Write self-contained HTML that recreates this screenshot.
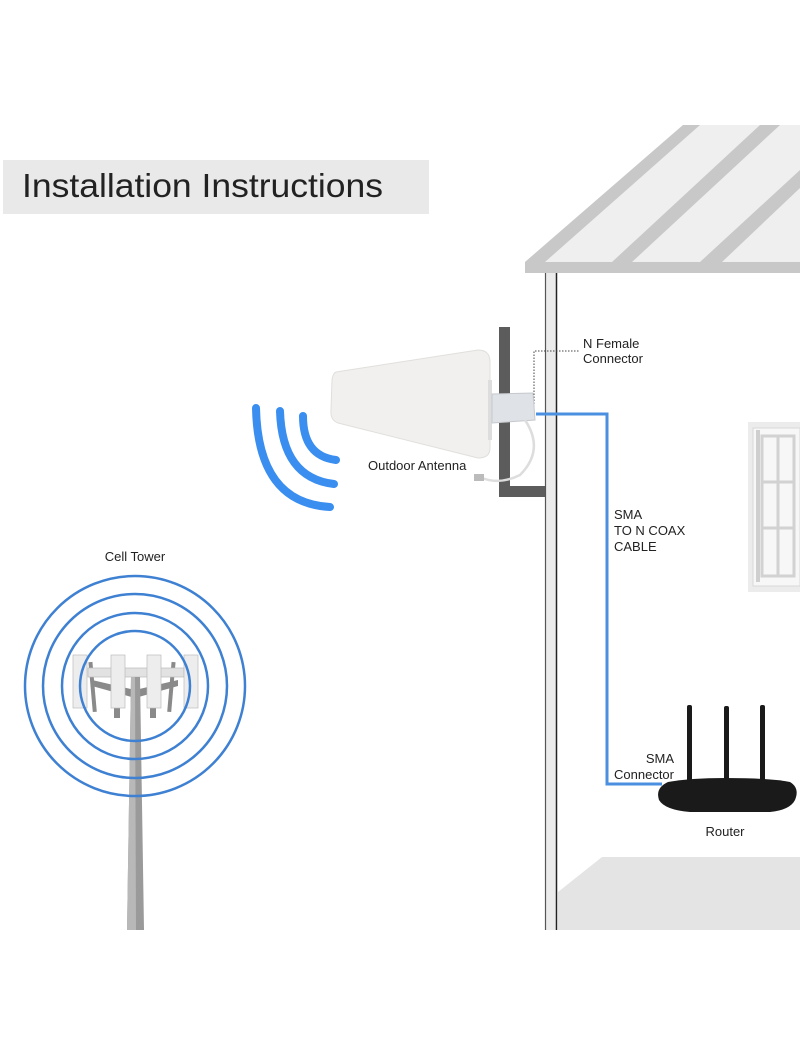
<!DOCTYPE html>
<html><head><meta charset="utf-8"><style>
html,body{margin:0;padding:0;background:#fff;}
svg{display:block;}
text{font-family:"Liberation Sans",Arial,sans-serif;fill:#222;}
</style></head><body>
<svg width="800" height="1052" viewBox="0 0 800 1052" xmlns="http://www.w3.org/2000/svg">
<rect width="800" height="1052" fill="#fff"/>
<!-- title -->
<rect x="3" y="160" width="426" height="54" fill="#e9e9e9"/>
<text x="22" y="197" font-size="33" textLength="361" lengthAdjust="spacingAndGlyphs" fill="#111">Installation Instructions</text>

<!-- roof -->
<polygon points="525,273 525,262 683,125 800,125 800,273" fill="#efefef"/>
<polygon points="525,262 683,125 700,125 545,262" fill="#c8c8c8"/>
<polygon points="612,262 760,125 780,125 632,262" fill="#c8c8c8"/>
<polygon points="700,262 800,170 800,188 722,262" fill="#c8c8c8"/>
<rect x="525" y="262" width="275" height="11" fill="#c8c8c8"/>

<!-- wall -->
<rect x="545" y="273" width="12" height="657" fill="#ebebeb"/>
<line x1="545.5" y1="273" x2="545.5" y2="930" stroke="#555" stroke-width="1.2"/>
<line x1="556.5" y1="273" x2="556.5" y2="930" stroke="#222" stroke-width="1.5"/>

<!-- floor -->
<polygon points="558,892 602,857 800,857 800,930 558,930" fill="#e4e4e4"/>

<!-- window -->
<rect x="748" y="422" width="52" height="170" fill="#ececec"/>
<rect x="753" y="428" width="47" height="158" fill="#f7f7f7" stroke="#d8d8d8"/>
<rect x="756" y="430" width="4" height="152" fill="#cfcfcf"/>
<rect x="762" y="436" width="32" height="140" fill="none" stroke="#d2d2d2" stroke-width="3"/>
<line x1="778" y1="436" x2="778" y2="576" stroke="#d2d2d2" stroke-width="3"/>
<line x1="762" y1="482" x2="794" y2="482" stroke="#d2d2d2" stroke-width="3"/>
<line x1="762" y1="528" x2="794" y2="528" stroke="#d2d2d2" stroke-width="3"/>

<!-- bracket -->
<rect x="499" y="327" width="11" height="170" fill="#5c5c5c"/>
<rect x="499" y="486" width="46" height="11" fill="#5c5c5c"/>

<!-- dotted line -->
<polyline points="534,413 534,351 579,351" fill="none" stroke="#444" stroke-width="1" stroke-dasharray="1.5,1.5"/>

<!-- antenna -->
<path d="M336,372 L478,350 Q490,350 490,362 L490,448 Q490,458 478,458 L338,423 Q330,420 331,410 L332,380 Q333,373 336,372 Z" fill="#f1f0ee" stroke="#e0dfdc"/>
<rect x="488" y="380" width="4" height="60" fill="#ddd"/>
<path d="M492,394 L533,393 L535,420 L492,423 Z" fill="#dfe2e6" stroke="#c5c8cc"/>
<path d="M525,420 Q545,450 520,475 Q500,485 482,478" fill="none" stroke="#ddd" stroke-width="2.5"/>
<rect x="474" y="474" width="10" height="7" fill="#bbb"/>

<!-- waves -->
<g fill="none" stroke="#3a8ef0" stroke-width="8" stroke-linecap="round">
<path d="M303,416 Q303,456 336,460"/>
<path d="M280,411 Q282,478 334,484"/>
<path d="M256,408 Q258,503 330,507"/>
</g>

<!-- coax -->
<polyline points="536,414 607,414 607,784 662,784" fill="none" stroke="#4a8fe0" stroke-width="3"/>

<!-- labels -->
<text x="583" y="348" font-size="13">N Female</text>
<text x="583" y="363" font-size="13">Connector</text>
<text x="368" y="470" font-size="13">Outdoor Antenna</text>
<text x="614" y="519" font-size="13">SMA</text>
<text x="614" y="535" font-size="13">TO N COAX</text>
<text x="614" y="551" font-size="13">CABLE</text>
<text x="674" y="763" font-size="13" text-anchor="end">SMA</text>
<text x="674" y="779" font-size="13" text-anchor="end">Connector</text>
<text x="725" y="836" font-size="13" text-anchor="middle">Router</text>
<text x="135" y="561" font-size="13" text-anchor="middle">Cell Tower</text>

<!-- router -->
<g fill="#1a1a1a">
<rect x="687" y="705" width="5" height="88" rx="2"/>
<rect x="724" y="706" width="5" height="86" rx="2"/>
<rect x="760" y="705" width="5" height="88" rx="2"/>
<path d="M668,782 Q690,778 725,778 Q770,778 790,782 Q800,788 795,800 Q790,810 770,812 L690,812 Q665,810 659,800 Q655,788 668,782 Z"/>
</g>

<!-- cell tower -->
<g>
<rect x="90" y="662" width="4" height="50" fill="#8a8a8a" transform="rotate(-5 92 680)"/>
<rect x="170" y="662" width="4" height="50" fill="#8a8a8a" transform="rotate(5 172 680)"/>
<rect x="114" y="668" width="6" height="50" fill="#8a8a8a"/>
<rect x="150" y="668" width="6" height="50" fill="#8a8a8a"/>
<polygon points="92,680 135,690 178,680 178,686 135,698 92,686" fill="#8a8a8a"/>
<rect x="88" y="668" width="96" height="9" fill="#e2e2e2" stroke="#bbb" stroke-width="0.7"/>
<rect x="73" y="655" width="14" height="53" fill="#ededed" stroke="#bbb" stroke-width="0.7"/>
<rect x="111" y="655" width="14" height="53" fill="#ededed" stroke="#bbb" stroke-width="0.7"/>
<rect x="147" y="655" width="14" height="53" fill="#ededed" stroke="#bbb" stroke-width="0.7"/>
<rect x="184" y="655" width="14" height="53" fill="#ededed" stroke="#bbb" stroke-width="0.7"/>
<polygon points="131,677 140,677 144,930 127,930" fill="#9a9a9a"/>
<polygon points="131,677 135,677 136,930 127,930" fill="#b8b8b8"/>
</g>
<g fill="none" stroke="#3e80d2" stroke-width="2.5">
<circle cx="135" cy="686" r="110"/>
<circle cx="135" cy="686" r="92"/>
<circle cx="135" cy="686" r="73"/>
<circle cx="135" cy="686" r="55"/>
</g>
</svg>
</body></html>
